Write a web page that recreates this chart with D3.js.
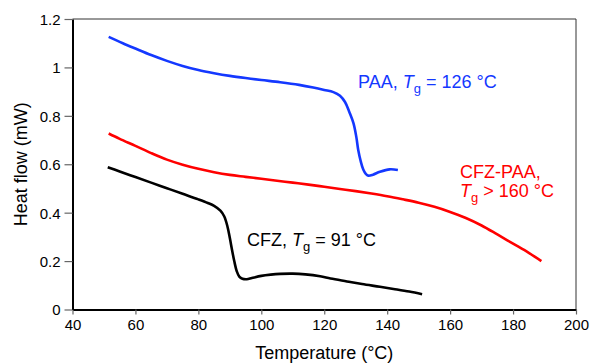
<!DOCTYPE html>
<html>
<head>
<meta charset="utf-8">
<script src="https://cdn.jsdelivr.net/npm/d3@7"></script>
<style>
  body { margin: 0; background: #fff; }
  svg { display: block; font-family: "Liberation Sans", Arial, sans-serif; }
</style>
</head>
<body>
<div id="chart"></div>
<script>
// tick labels
const xTicks = [40, 60, 80, 100, 120, 140, 160, 180, 200];
const yTicks = [0, 0.2, 0.4, 0.6, 0.8, 1, 1.2];

// PAA
const paaT = [51.5, 56, 60, 65, 70, 75, 80, 85, 90, 95, 100, 106, 112, 116.5, 120, 122.9, 125, 126.6, 128, 129.3, 130.2, 130.8, 131.6, 132.4, 133.2, 134, 135.5, 137.7, 140.8, 143.4];
const paaV = [1.126, 1.100, 1.078, 1.051, 1.027, 1.006, 0.989, 0.976, 0.965, 0.956, 0.948, 0.939, 0.928, 0.917, 0.907, 0.898, 0.883, 0.857, 0.815, 0.769, 0.712, 0.659, 0.612, 0.578, 0.560, 0.553, 0.557, 0.569, 0.579, 0.576];

// CFZ-PAA
const mixT = [51.5, 55, 60, 65, 70, 75, 80, 85, 90, 95, 100, 105, 110, 115, 120, 125, 130, 135, 140, 145, 150, 155, 160, 165, 170, 175, 180, 185, 189];
const mixV = [0.727, 0.705, 0.676, 0.646, 0.619, 0.598, 0.581, 0.567, 0.556, 0.548, 0.540, 0.532, 0.524, 0.516, 0.507, 0.498, 0.489, 0.479, 0.468, 0.455, 0.441, 0.424, 0.403, 0.378, 0.347, 0.310, 0.272, 0.234, 0.200];

// CFZ
const cfzT = [51.2, 55, 60, 65, 70, 75, 80, 83, 85, 87, 88.2, 89.2, 90, 90.7, 91.4, 92.2, 93, 94, 95.4, 97, 100, 103, 106, 110, 114, 118.7, 122, 127.2, 132, 137.7, 142, 147, 151.1];
const cfzV = [0.588, 0.570, 0.547, 0.524, 0.501, 0.478, 0.455, 0.440, 0.428, 0.408, 0.385, 0.345, 0.295, 0.246, 0.200, 0.158, 0.136, 0.127, 0.125, 0.130, 0.139, 0.144, 0.147, 0.148, 0.145, 0.137, 0.128, 0.116, 0.105, 0.094, 0.085, 0.074, 0.063];

const W = 590, H = 363;
const margin = { top: 19, right: 14, bottom: 53.5, left: 72.5 };
const width = W - margin.left - margin.right;
const height = H - margin.top - margin.bottom;

const svg = d3.select('#chart').append('svg')
  .attr('width', W).attr('height', H);

const x = d3.scaleLinear().domain([40, 200]).range([margin.left, margin.left + width]);
const y = d3.scaleLinear().domain([0, 1.2]).range([margin.top + height, margin.top]);

// frame top / right
svg.append('path')
  .attr('d', `M${x(40)},${y(1.2)}H${x(200)}V${y(0)}`)
  .attr('fill', 'none')
  .attr('stroke', '#333')
  .attr('stroke-width', 1);

// axes
const xAxis = svg.append('g')
  .attr('transform', `translate(0,${y(0)})`)
  .call(d3.axisBottom(x).tickValues(xTicks).tickSize(5).tickSizeOuter(0).tickPadding(5).tickFormat(d3.format('d')));
const yAxis = svg.append('g')
  .attr('transform', `translate(${x(40)},0)`)
  .call(d3.axisLeft(y).tickValues(yTicks).tickSize(8).tickSizeOuter(0).tickPadding(4).tickFormat(d => String(+d.toFixed(1))));

[xAxis, yAxis].forEach(a => {
  a.select('.domain').attr('stroke', '#000').attr('stroke-width', 2);
  a.selectAll('.tick line').attr('stroke', '#666').attr('stroke-width', 1.2);
  a.selectAll('.tick text').attr('fill', '#000').style('font-size', '15px')
    .style('font-family', '"Liberation Sans", Arial, sans-serif');
});
yAxis.selectAll('.tick text').attr('dy', '0.36em');

// axis titles
svg.append('text')
  .attr('x', (x(40) + x(200)) / 2)
  .attr('y', 359)
  .attr('text-anchor', 'middle')
  .style('font-size', '18px')
  .text('Temperature (°C)');

svg.append('text')
  .attr('transform', `translate(27,${(y(0) + y(1.2)) / 2}) rotate(-90)`)
  .attr('text-anchor', 'middle')
  .style('font-size', '18px')
  .text('Heat flow (mW)');

// curves
const line = d3.line()
  .x(d => x(d[0]))
  .y(d => y(d[1]))
  .curve(d3.curveCatmullRom.alpha(0.5));

const series = [
  { t: paaT, v: paaV, color: '#1438ff' },
  { t: mixT, v: mixV, color: '#ff0000' },
  { t: cfzT, v: cfzV, color: '#000000' }
];

series.forEach(s => {
  svg.append('path')
    .datum(d3.zip(s.t, s.v))
    .attr('fill', 'none')
    .attr('stroke', s.color)
    .attr('stroke-width', 2.6)
    .attr('stroke-linejoin', 'round')
    .attr('stroke-linecap', 'butt')
    .attr('d', line);
});

// annotations
function tgLabel(xp, yp, color, pre, post) {
  const t = svg.append('text')
    .attr('x', xp).attr('y', yp)
    .attr('fill', color)
    .style('font-size', '18px');
  if (pre) t.append('tspan').text(pre);
  t.append('tspan').style('font-style', 'italic').text('T');
  t.append('tspan').attr('dy', 5).style('font-size', '13px').text('g');
  t.append('tspan').attr('dy', -5).text(post);
}

tgLabel(358, 88, '#1438ff', 'PAA, ', ' = 126 °C');

svg.append('text')
  .attr('x', 460).attr('y', 178)
  .attr('fill', '#ff0000')
  .style('font-size', '18px')
  .text('CFZ-PAA,');
tgLabel(460, 197, '#ff0000', '', ' > 160 °C');

tgLabel(247, 246, '#000000', 'CFZ, ', ' = 91 °C');
</script>
</body>
</html>
